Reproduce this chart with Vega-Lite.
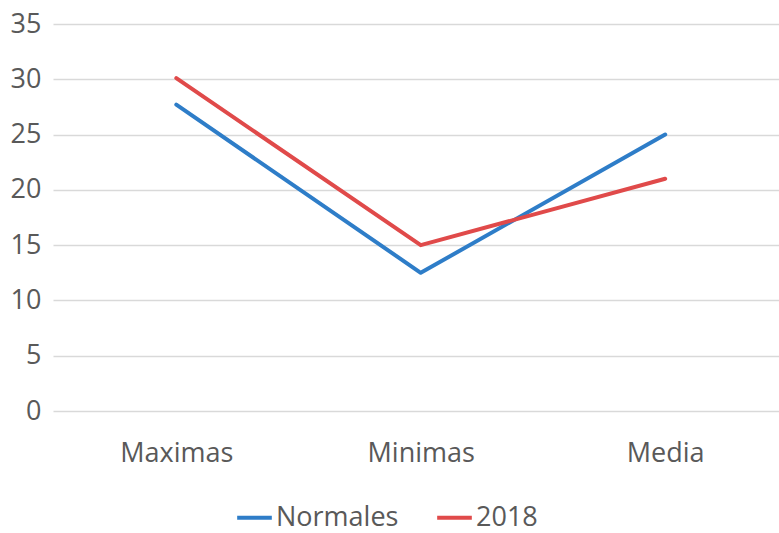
{
  "$schema": "https://vega.github.io/schema/vega-lite/v6.json",
  "width": 726,
  "height": 387,
  "autosize": "none",
  "padding": {"left": 53, "top": 24, "right": 0, "bottom": 122},
  "background": "white",
  "config": {
    "view": {"stroke": null},
    "font": "Open Sans"
  },
  "data": {
    "values": [
      {"cat": "Maximas", "serie": "Normales", "v": 27.7},
      {"cat": "Minimas", "serie": "Normales", "v": 12.5},
      {"cat": "Media", "serie": "Normales", "v": 25.0},
      {"cat": "Maximas", "serie": "2018", "v": 30.1},
      {"cat": "Minimas", "serie": "2018", "v": 15.0},
      {"cat": "Media", "serie": "2018", "v": 21.0}
    ]
  },
  "mark": {"type": "line", "strokeWidth": 4, "strokeCap": "round", "strokeJoin": "round"},
  "encoding": {
    "x": {
      "field": "cat", "type": "nominal", "sort": ["Maximas", "Minimas", "Media"],
      "scale": {"type": "point", "padding": 0.485, "align": 0.52},
      "axis": {"title": null, "labelAngle": 0, "domain": false, "ticks": false, "labelFontSize": 27, "labelColor": "#595959", "labelPadding": 29, "labelFont": "Open Sans"}
    },
    "y": {
      "field": "v", "type": "quantitative",
      "scale": {"domain": [0, 35], "nice": false},
      "axis": {"title": null, "values": [0, 5, 10, 15, 20, 25, 30, 35], "domain": false, "ticks": false, "gridColor": "#d9d9d9", "gridWidth": 1.3, "labelFontSize": 27, "labelColor": "#595959", "labelPadding": 12, "labelFont": "Open Sans"}
    },
    "color": {
      "field": "serie", "type": "nominal",
      "scale": {"domain": ["Normales", "2018"], "range": ["#2e7dc8", "#e04a4a"]},
      "legend": {
        "title": null, "orient": "none", "direction": "horizontal",
        "legendX": 182, "legendY": 474,
        "symbolType": "stroke", "symbolSize": 1200, "symbolStrokeWidth": 4,
        "labelFontSize": 27, "labelColor": "#595959", "labelFont": "Open Sans",
        "columnPadding": 30, "labelOffset": 2
      }
    }
  }
}
